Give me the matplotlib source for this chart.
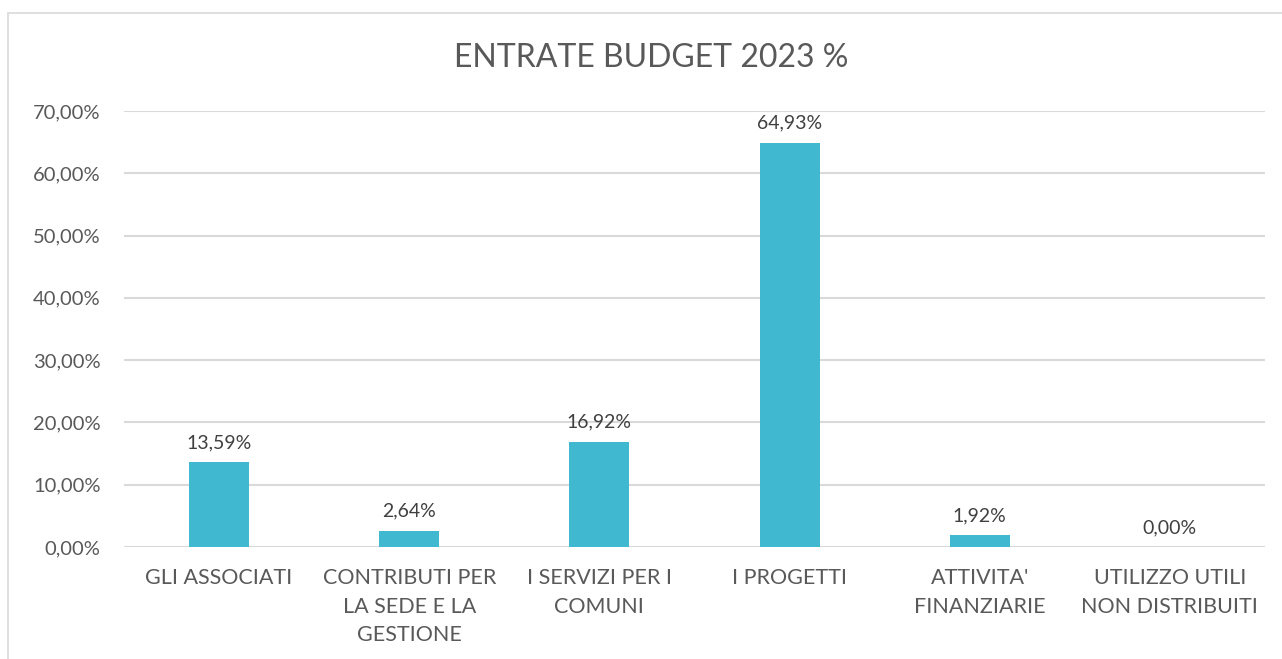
import matplotlib
matplotlib.use("Agg")
import matplotlib.pyplot as plt
from matplotlib.patches import Rectangle

categories = ["GLI ASSOCIATI", "CONTRIBUTI PER\nLA SEDE E LA\nGESTIONE", "I SERVIZI PER I\nCOMUNI",
              "I PROGETTI", "ATTIVITA'\nFINANZIARIE", "UTILIZZO UTILI\nNON DISTRIBUITI"]
values = [13.59, 2.64, 16.92, 64.93, 1.92, 0.00]
yticks = [0, 10, 20, 30, 40, 50, 60, 70]
title = "ENTRATE BUDGET 2023 %"

plt.rcParams['font.family'] = ['Lato', 'DejaVu Sans']
txt = '#595959'
fig = plt.figure(figsize=(12.82, 6.59), dpi=100)
fig.patches.append(Rectangle((8/1282, -0.1), 1.2, 1 - 13/659 + 0.1, transform=fig.transFigure,
                             fill=False, edgecolor='#d9d9d9', linewidth=1.2))
ax = fig.add_axes([124/1282, 1 - 547/659, (1265 - 124)/1282, (547 - 111)/659])
x = range(len(categories))
bars = ax.bar(x, values, width=0.315, color='#3fb8d0', zorder=3)
ax.set_xlim(-0.5, len(categories) - 0.5)
ax.set_ylim(0, 70)
ax.set_yticks(yticks)
ax.set_yticklabels([f"{v:.2f}%".replace('.', ',') for v in yticks], color=txt, fontsize=14.5)
ax.set_xticks(list(x))
ax.set_xticklabels(categories, color=txt, fontsize=15.5, linespacing=1.55, va='top')
ax.tick_params(axis='y', length=0, pad=17)
ax.tick_params(axis='x', length=0, pad=15)
ax.grid(axis='y', color='#d9d9d9', linewidth=1.5, zorder=0)
for s in ax.spines.values():
    s.set_visible(False)
for b, v in zip(bars, values):
    ax.annotate(f"{v:.2f}%".replace('.', ','), (b.get_x() + b.get_width()/2, v),
                xytext=(0, 8), textcoords='offset points', ha='center', va='bottom',
                color='#404040', fontsize=14)
fig.text(651/1282, 1 - 58/659, title, ha='center', va='center', color=txt, fontsize=23)
fig.savefig('out.png', dpi=100)
